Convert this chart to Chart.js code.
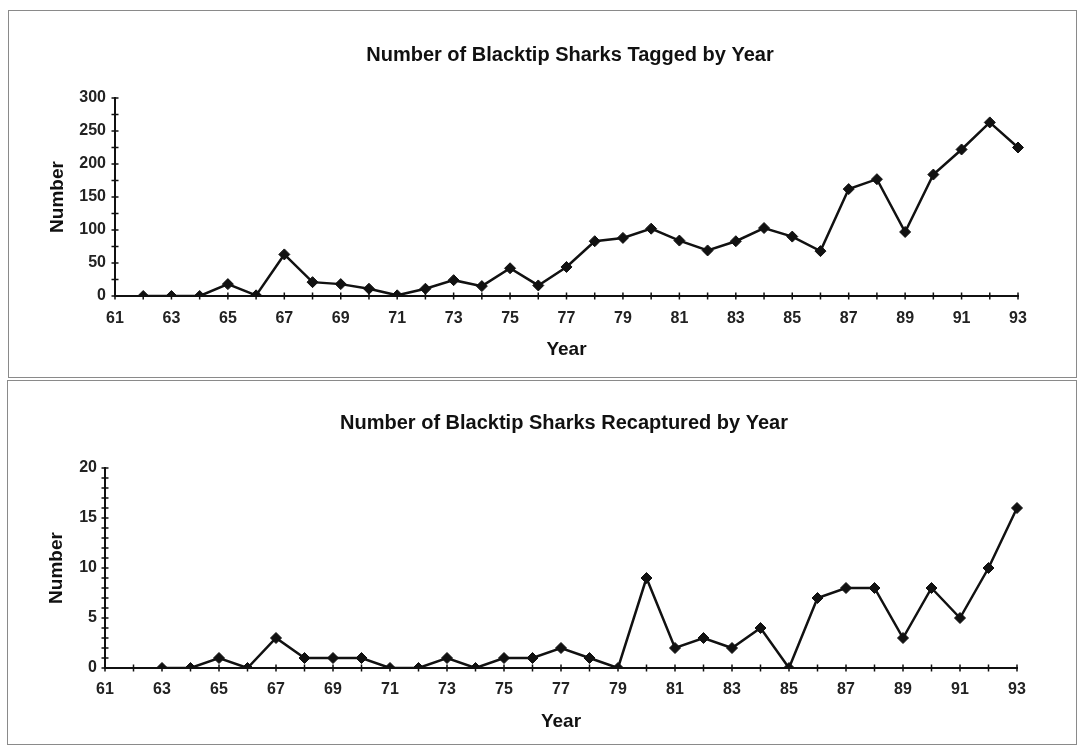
<!DOCTYPE html>
<html>
<head>
<meta charset="utf-8">
<script src="https://cdn.jsdelivr.net/npm/chart.js@4.4.1/dist/chart.umd.min.js"></script>
<style>
  body { margin: 0; background: #fff; width: 1077px; height: 749px; position: relative; overflow: hidden; }
  .box { position: absolute; border: 1px solid #8a8a8a; box-sizing: border-box; }
  #box1 { left: 8px; top: 10px; width: 1069px; height: 368px; }
  #box2 { left: 7px; top: 380px; width: 1070px; height: 365px; }
  canvas { display: block; }
</style>
</head>
<body>
<div class="box" id="box1"><canvas id="tagChart" width="1122" height="366"></canvas></div>
<div class="box" id="box2"><canvas id="recapChart" width="1112" height="363"></canvas></div>
<script>
// years 61..93
var years = [];
for (var yr = 61; yr <= 93; yr++) years.push(String(yr));

// number tagged per year (no value for 61)
var tagged = [null, 0, 0, 0, 18, 1, 63, 21, 18, 11, 1, 11, 24, 15, 42, 16, 44, 83, 88, 102,
              84, 69, 83, 103, 90, 68, 162, 177, 97, 184, 222, 263, 225];

// number recaptured per year (no values for 61, 62)
var recaptured = [null, null, 0, 0, 1, 0, 3, 1, 1, 1, 0, 0, 1, 0, 1, 1, 2, 1, 0, 9,
                  2, 3, 2, 4, 0, 7, 8, 8, 3, 8, 5, 10, 16];

var FONT = "'Liberation Sans', Arial, sans-serif";
var INK = '#111';

// ticks that cross the axis line, like the old spreadsheet charts
var crossTicks = {
  id: 'crossTicks',
  beforeDatasetsDraw: function(chart) {
    var ctx = chart.ctx;
    var xs = chart.scales.x, ys = chart.scales.y;
    ctx.save();
    ctx.strokeStyle = INK;
    ctx.lineWidth = 1.5;
    ctx.beginPath();
    xs.ticks.forEach(function(t, i) {
      var px = xs.getPixelForTick(i);
      ctx.moveTo(px, xs.top - 3.5);
      ctx.lineTo(px, xs.top + 3.5);
    });
    ys.ticks.forEach(function(t, i) {
      var py = ys.getPixelForTick(i);
      ctx.moveTo(ys.right - 3.5, py);
      ctx.lineTo(ys.right + 3.5, py);
    });
    ctx.stroke();
    ctx.restore();
  }
};

function makeChart(id, title, values, yMax, yStep, yLabelEvery, lay) {
  var ctx = document.getElementById(id);
  return new Chart(ctx, {
    type: 'line',
    data: {
      labels: years,
      datasets: [{
        data: values,
        borderColor: INK,
        backgroundColor: INK,
        borderWidth: 2.5,
        tension: 0,
        fill: false,
        pointStyle: 'rectRot',
        pointRadius: 5.5,
        pointBorderWidth: 1,
        pointBackgroundColor: INK,
        pointBorderColor: INK
      }]
    },
    options: {
      responsive: false,
      animation: false,
      layout: { padding: 0 },
      plugins: {
        legend: { display: false },
        tooltip: { enabled: false },
        title: {
          display: true,
          text: title,
          color: INK,
          font: { family: FONT, size: 20, weight: 'bold' },
          padding: { top: lay.titleTop, bottom: lay.titleBottom }
        }
      },
      scales: {
        x: {
          type: 'category',
          offset: false,
          afterFit: function(s) { s.height = lay.xHeight; },
          grid: { display: false, drawTicks: false },
          border: { display: true, color: INK, width: 2 },
          ticks: {
            autoSkip: false,
            maxRotation: 0,
            color: '#222',
            padding: lay.xPad,
            font: { family: FONT, size: 16, weight: 'bold' },
            callback: function(v, i) { return i % 2 === 0 ? years[i] : ''; }
          },
          title: {
            display: true,
            text: 'Year',
            color: INK,
            font: { family: FONT, size: 19, weight: 'bold' },
            padding: { top: 0, bottom: lay.yearPad }
          }
        },
        y: {
          min: 0,
          max: yMax,
          afterFit: function(s) { s.width = lay.yWidth; },
          grid: { display: false, drawTicks: false },
          border: { display: true, color: INK, width: 2 },
          ticks: {
            stepSize: yStep,
            autoSkip: false,
            color: '#222',
            padding: lay.yPad,
            font: { family: FONT, size: 16, weight: 'bold' },
            callback: function(v) { return v % yLabelEvery === 0 ? v : ''; }
          },
          title: {
            display: true,
            text: 'Number',
            color: INK,
            font: { family: FONT, size: 19, weight: 'bold' },
            padding: { top: 37.6, bottom: 0 }
          }
        },
        // empty right-hand axis: only keeps the space on the right so the title sits where it should
        side: {
          position: 'right',
          afterFit: function(s) { s.width = lay.sideWidth; },
          grid: { display: false, drawTicks: false },
          border: { display: false },
          ticks: { display: false }
        }
      }
    },
    plugins: [crossTicks]
  });
}

makeChart('tagChart', 'Number of Blacktip Sharks Tagged by Year', tagged, 300, 25, 50,
  { sideWidth: 113, titleTop: 32, titleBottom: 31, xHeight: 81, xPad: 13, yearPad: 15.6, yWidth: 106, yPad: 9 });

makeChart('recapChart', 'Number of Blacktip Sharks Recaptured by Year', recaptured, 20, 1, 5,
  { sideWidth: 103, titleTop: 30, titleBottom: 33, xHeight: 76, xPad: 11.7, yearPad: 10.6, yWidth: 97, yPad: 8 });
</script>
</body>
</html>
